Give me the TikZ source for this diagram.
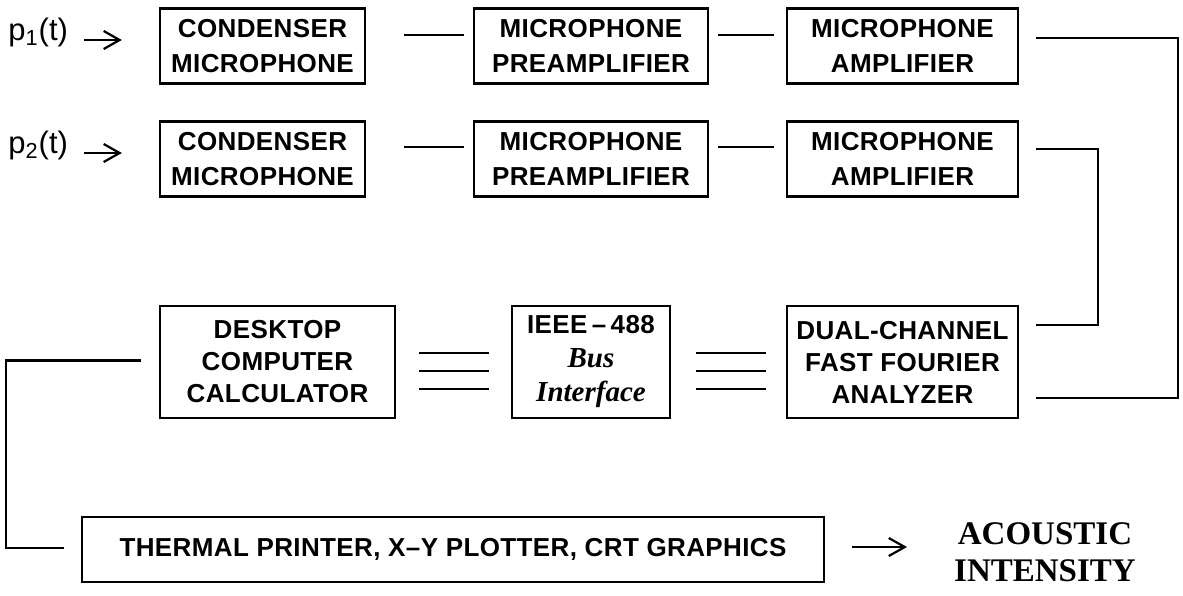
\documentclass[tikz,border=0pt]{standalone}
\usepackage[T1,TU]{fontenc}
\usepackage{fontspec}
\usetikzlibrary{arrows.meta}
\newfontfamily\boxfont[LetterSpace=1.5]{Liberation Sans}
\newfontfamily\labfont{Liberation Sans}
\newfontfamily\resfont{Liberation Serif}
\IfFileExists{pzcmi8t.tfm}{%
  \newcommand\chorusfont{\fontencoding{T1}\fontfamily{pzc}\fontseries{mb}\fontshape{it}\fontsize{17}{16}\selectfont}}{%
  \newcommand\chorusfont{\resfont\itshape\bfseries\fontsize{14.5}{16}\selectfont}}
\tikzset{
  blk/.style={draw, line width=1.1pt, inner sep=0pt, align=center},
  rowA/.style={blk, font=\boxfont\bfseries\fontsize{13}{17.5}\selectfont, minimum height=37.5pt},
  rowB/.style={blk, font=\boxfont\bfseries\fontsize{13}{16}\selectfont, minimum height=56pt},
  wire/.style={line width=1.1pt},
  arr/.style={wire, -{Straight Barb[length=8pt,width=9pt]}},
  lab/.style={font=\labfont\fontsize{15.5}{17}\selectfont, inner sep=0pt, anchor=west},
}
\begin{document}
\begin{tikzpicture}[x=0.5pt, y=-0.5pt]
\useasboundingbox (0,0) rectangle (1183,595);
% row 1
\node[lab] (p1lab) at (8,32) {p\textsubscript{1}(t)};
\node[rowA, minimum width=102.5pt] (c1) at (262.5,46) {CONDENSER\\MICROPHONE};
\node[rowA, minimum width=117pt] (pa1) at (591,46) {MICROPHONE\\PREAMPLIFIER};
\node[rowA, minimum width=115.5pt] (a1) at (902.5,46) {MICROPHONE\\AMPLIFIER};
% row 2
\node[lab] (p2lab) at (8,145) {p\textsubscript{2}(t)};
\node[rowA, minimum width=102.5pt] (c2) at (262.5,159) {CONDENSER\\MICROPHONE};
\node[rowA, minimum width=117pt] (pa2) at (591,159) {MICROPHONE\\PREAMPLIFIER};
\node[rowA, minimum width=115.5pt] (a2) at (902.5,159) {MICROPHONE\\AMPLIFIER};
% row 3
\node[rowB, minimum width=117.5pt] (desk) at (277.5,362) {DESKTOP\\COMPUTER\\CALCULATOR};
\node[rowB, minimum width=79pt] (ieee) at (591,362) {IEEE\,–\,488\\[1pt]{\chorusfont Bus}\\[1pt]{\chorusfont Interface}};
\node[rowB, minimum width=115.5pt] (fft) at (902.5,362) {DUAL-CHANNEL\\FAST FOURIER\\ANALYZER};
% row 4
\node[blk, font=\boxfont\bfseries\fontsize{13}{15}\selectfont, minimum width=371pt, minimum height=32.5pt] (thermal) at (453,549.5) {THERMAL PRINTER, X–Y PLOTTER, CRT GRAPHICS};
\node[font=\resfont\bfseries\fontsize{16.5}{18.5}\selectfont, align=center, inner sep=0pt] (res) at (1045,552) {ACOUSTIC\\INTENSITY};
\coordinate (tipr) at (907,547);
\coordinate (corner) at (6,548);
% input arrows
\draw[arr] ([shift={(8pt,-4pt)}]p1lab.east) -- ([shift={(-18.5pt,3pt)}]c1.west);
\draw[arr] ([shift={(8pt,-4pt)}]p2lab.east) -- ([shift={(-18.5pt,3pt)}]c2.west);
% chain connectors
\draw[wire] ([shift={(19pt,5.5pt)}]c1.east) -- ([shift={(-4.5pt,5.5pt)}]pa1.west);
\draw[wire] ([shift={(4.5pt,5.5pt)}]pa1.east) -- ([shift={(-6pt,5.5pt)}]a1.west);
\draw[wire] ([shift={(19pt,6pt)}]c2.east) -- ([shift={(-4.5pt,6pt)}]pa2.west);
\draw[wire] ([shift={(4.5pt,6pt)}]pa2.east) -- ([shift={(-6pt,6pt)}]a2.west);
% amplifier outputs to analyzer
\draw[wire] ([shift={(8.5pt,4pt)}]a1.east) -| ([shift={(79.5pt,-18pt)}]fft.east) -- ([shift={(8.5pt,-18pt)}]fft.east);
\draw[wire] ([shift={(8.5pt,5pt)}]a2.east) -| ([shift={(39.5pt,18.5pt)}]fft.east) -- ([shift={(8.5pt,18.5pt)}]fft.east);
% bus lines
\foreach \dy in {4.5pt,-4.5pt,-13.5pt}{
  \draw[wire] ([shift={(11.5pt,\dy)}]desk.east) -- ([shift={(-11pt,\dy)}]ieee.west);
  \draw[wire] ([shift={(12.5pt,\dy)}]ieee.east) -- ([shift={(-10pt,\dy)}]fft.west);
}
% computer to output devices
\draw[wire] ([shift={(-9pt,0.75pt)}]desk.west) -| (corner) -- ([shift={(-8.5pt,0.75pt)}]thermal.west);
\draw[arr] ([shift={(13.5pt,1.25pt)}]thermal.east) -- (tipr);
\end{tikzpicture}
\end{document}
